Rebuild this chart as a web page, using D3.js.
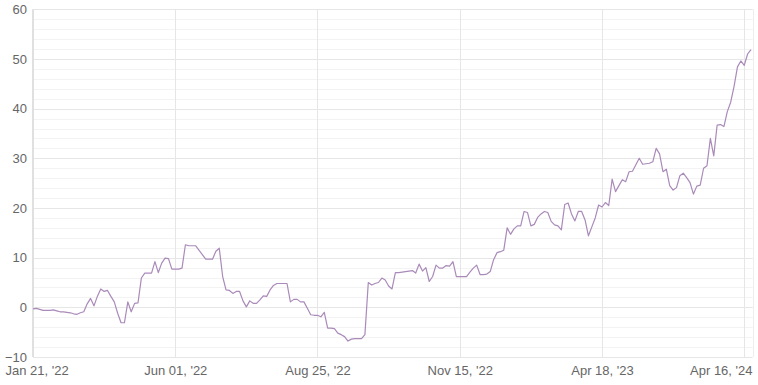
<!DOCTYPE html>
<html>
<head>
<meta charset="utf-8">
<script src="https://cdn.jsdelivr.net/npm/d3@7"></script>
<style>
  body { margin: 0; background: #ffffff; }
  text { font-family: "Liberation Sans", Arial, sans-serif; }
</style>
</head>
<body>
<div id="chart"></div>
<script>
// Series values (one per point, evenly spaced along the x axis)
var values = [
    -0.3, -0.2, -0.4, -0.6, -0.6, -0.6, -0.5, -0.7, -0.9, -0.9,
    -1.0, -1.1, -1.3, -1.4, -1.1, -0.9, 0.7, 1.8, 0.3, 2.2,
    3.7, 3.2, 3.4, 2.2, 1.1, -1.2, -3.1, -3.1, 1.1, -0.9,
    0.8, 0.9, 5.9, 6.9, 6.9, 6.9, 9.2, 7.0, 8.9, 9.9,
    9.8, 7.7, 7.7, 7.7, 7.9, 12.6, 12.4, 12.4, 12.4, 11.5,
    10.6, 9.7, 9.7, 9.7, 11.3, 11.9, 6.2, 3.5, 3.4, 2.8,
    3.2, 3.2, 1.3, 0.1, 1.3, 0.8, 0.8, 1.5, 2.3, 2.2,
    3.5, 4.4, 4.8, 4.8, 4.8, 4.8, 1.1, 1.6, 1.6, 1.1,
    1.1, -0.2, -1.5, -1.6, -1.6, -1.9, -1.0, -4.2, -4.2, -4.3,
    -5.2, -5.5, -5.9, -6.8, -6.4, -6.3, -6.3, -6.3, -5.5, 5.0,
    4.5, 4.8, 5.0, 5.9, 5.5, 4.3, 3.7, 7.0, 7.0, 7.1,
    7.2, 7.3, 7.4, 6.9, 8.7, 7.3, 8.0, 5.2, 6.2, 8.5,
    7.9, 7.9, 8.4, 8.3, 9.2, 6.2, 6.2, 6.2, 6.2, 7.1,
    7.9, 8.5, 6.6, 6.6, 6.7, 7.2, 9.6, 11.0, 11.2, 11.5,
    16.0, 14.7, 15.8, 16.4, 16.4, 19.3, 19.1, 16.4, 16.7, 18.1,
    18.8, 19.3, 19.1, 17.3, 16.6, 16.4, 15.6, 20.7, 21.0, 18.8,
    17.4, 19.3, 19.3, 17.6, 14.4, 16.2, 18.0, 20.6, 20.2, 21.1,
    20.5, 25.8, 23.3, 24.5, 25.7, 25.3, 27.3, 27.4, 28.7, 30.0,
    28.8, 28.9, 29.0, 29.3, 32.0, 30.9, 27.3, 27.8, 24.5, 23.6,
    24.1, 26.5, 27.0, 26.1, 25.1, 22.8, 24.4, 24.6, 28.0, 28.5,
    34.0, 30.5, 36.7, 36.8, 36.4, 39.4, 41.3, 44.5, 48.4, 49.6,
    48.7, 51.0, 51.9
];

// Category labels shown on the x axis and the point index they sit at
var tickIndex = [0, 42, 84, 126, 168, 210];
var tickLabels = ["Jan 21, '22", "Jun 01, '22", "Aug 25, '22", "Nov 15, '22", "Apr 18, '23", "Apr 16, '24"];

// Value axis ticks
var yTicks = [-10, 0, 10, 20, 30, 40, 50, 60];
var yMinorTicks = d3.range(-10, 61, 2);

// SVG area and plot box
var svgWidth = 758;
var svgHeight = 385;
var plot = { left: 33, right: 752.7, top: 9.3, bottom: 357 };

var svg = d3.select("#chart")
    .append("svg")
    .attr("width", svgWidth)
    .attr("height", svgHeight);

// Scales
var xScale = d3.scaleLinear()
    .domain([0, 212.5])
    .range([plot.left, plot.right]);

var yScale = d3.scaleLinear()
    .domain([-10, 60])
    .range([plot.bottom, plot.top]);

// Minor horizontal gridlines
svg.append("g")
    .selectAll("line")
    .data(yMinorTicks.filter(function (d) { return d % 10 !== 0; }))
    .enter()
    .append("line")
    .attr("x1", plot.left)
    .attr("x2", plot.right)
    .attr("y1", function (d) { return Math.round(yScale(d)) + 0.5; })
    .attr("y2", function (d) { return Math.round(yScale(d)) + 0.5; })
    .attr("stroke", "#f3f3f3")
    .attr("stroke-width", 1);

// Major horizontal gridlines
svg.append("g")
    .selectAll("line")
    .data(yTicks)
    .enter()
    .append("line")
    .attr("x1", plot.left)
    .attr("x2", plot.right)
    .attr("y1", function (d) { return Math.round(yScale(d)) + 0.5; })
    .attr("y2", function (d) { return Math.round(yScale(d)) + 0.5; })
    .attr("stroke", "#e6e6e6")
    .attr("stroke-width", 1);

// Vertical gridlines at the labelled points
svg.append("g")
    .selectAll("line")
    .data(tickIndex)
    .enter()
    .append("line")
    .attr("x1", function (d) { return Math.round(xScale(d)) + 0.5; })
    .attr("x2", function (d) { return Math.round(xScale(d)) + 0.5; })
    .attr("y1", plot.top)
    .attr("y2", plot.bottom)
    .attr("stroke", "#e6e6e6")
    .attr("stroke-width", 1);

// Plot frame: left axis line and right edge
svg.append("line")
    .attr("x1", plot.left).attr("x2", plot.left)
    .attr("y1", plot.top).attr("y2", plot.bottom)
    .attr("stroke", "#e0e0e0")
    .attr("stroke-width", 2);

svg.append("line")
    .attr("x1", Math.round(plot.right) + 0.5).attr("x2", Math.round(plot.right) + 0.5)
    .attr("y1", plot.top).attr("y2", plot.bottom)
    .attr("stroke", "#eeeeee")
    .attr("stroke-width", 1);

// Y axis labels
var yAxis = d3.axisLeft(yScale)
    .tickValues(yTicks)
    .tickSize(0)
    .tickPadding(6);

var yAxisGroup = svg.append("g")
    .attr("transform", "translate(" + plot.left + ",0)")
    .call(yAxis);

yAxisGroup.select(".domain").remove();
yAxisGroup.selectAll("text")
    .attr("fill", "#666666")
    .style("font-size", "13px");

// X axis labels
var xAxis = d3.axisBottom(xScale)
    .tickValues(tickIndex)
    .tickFormat(function (d, i) { return tickLabels[i]; })
    .tickSize(0)
    .tickPadding(9);

var xAxisGroup = svg.append("g")
    .attr("transform", "translate(0," + plot.bottom + ")")
    .call(xAxis);

xAxisGroup.select(".domain").remove();
xAxisGroup.selectAll("text")
    .attr("fill", "#666666")
    .style("font-size", "13px");

// Keep the first and last labels inside the chart
xAxisGroup.selectAll("text").each(function (d) {
    var w = this.getComputedTextLength();
    var cx = xScale(d);
    if (cx + w / 2 > svgWidth - 6) {
        d3.select(this).attr("x", (svgWidth - 6) - w / 2 - cx);
    }
    if (cx - w / 2 < 5) {
        d3.select(this).attr("x", 5 + w / 2 - cx);
    }
});

// The line itself
var line = d3.line()
    .x(function (d, i) { return xScale(i); })
    .y(function (d) { return yScale(d); });

svg.append("path")
    .datum(values)
    .attr("d", line)
    .attr("fill", "none")
    .attr("stroke", "#a98ab9")
    .attr("stroke-width", 1.2)
    .attr("stroke-linejoin", "round");
</script>
</body>
</html>
